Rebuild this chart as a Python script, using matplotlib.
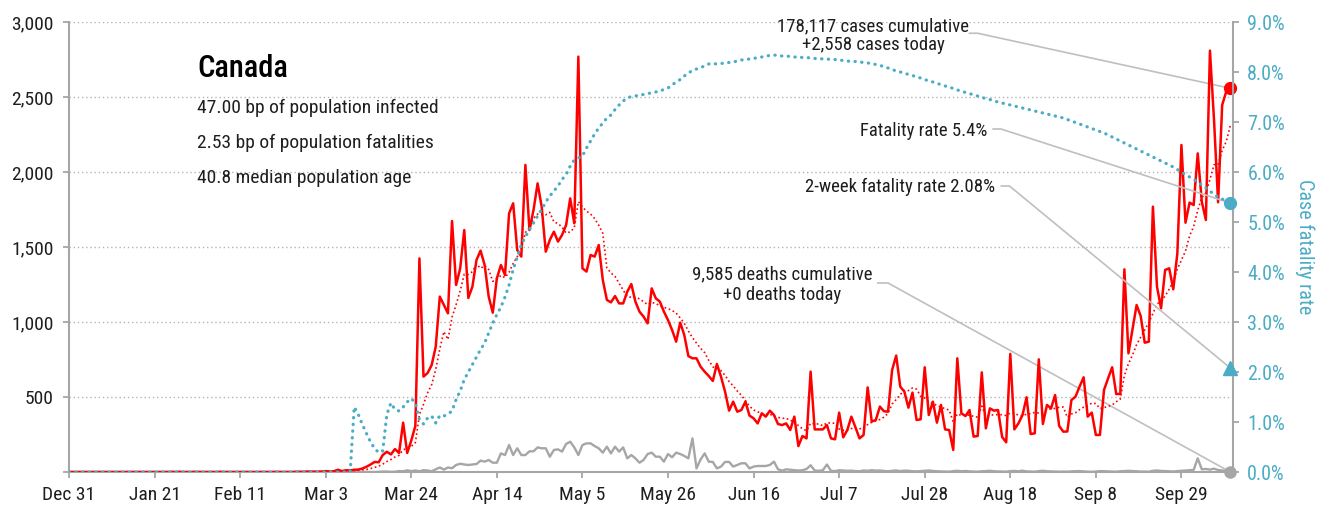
import numpy as np
import pandas as pd
import matplotlib
matplotlib.use('Agg')
import matplotlib.pyplot as plt
import matplotlib.dates as mdates
from matplotlib.ticker import FuncFormatter, MultipleLocator

plt.rcParams['font.family'] = ['Roboto Condensed', 'Roboto', 'DejaVu Sans']

RED = '#ff0000'
TEAL = '#4bacc6'
GREY = '#a6a6a6'
LEADER = '#bfbfbf'
TXT = '#1e1e1e'

# daily new cases, one list per month (Dec 31 2019 .. Oct 11 2020)
cases_dec = [0]
cases_jan = [0, 0, 0, 0, 0, 0, 0, 0, 0, 0, 0, 0, 0, 0, 0, 0, 0, 0, 0, 0,
             0, 0, 0, 0, 1, 0, 1, 0, 0, 0, 1]
cases_feb = [0, 0, 0, 0, 0, 1, 0, 0, 0, 0, 0, 0, 0, 0, 0, 0, 0, 0, 0, 1,
             0, 0, 0, 0, 2, 1, 2, 3, 2]
cases_mar = [2, 3, 6, 3, 5, 15, 6, 12, 10, 15, 16, 23, 35, 50, 67, 65, 113, 135, 117, 153,
             127, 329, 127, 210, 307, 1424, 636, 660, 713, 836, 1169]
cases_apr = [1113, 1058, 1673, 1247, 1358, 1613, 1160, 1236, 1413, 1476,
             1380, 1169, 1062, 1291, 1380, 1313, 1724, 1791, 1480, 1436,
             2047, 1613, 1747, 1924, 1769, 1469, 1547, 1602, 1536, 1580]
cases_may = [1647, 1824, 1658, 2769, 1358, 1336, 1447, 1436, 1513, 1280,
             1147, 1131, 1173, 1124, 1124, 1202, 1253, 1136, 1069, 1036,
             991, 1224, 1158, 1136, 1069, 1013, 947, 869, 996, 913, 773]
cases_jun = [758, 758, 702, 669, 640, 607, 720, 636, 536, 409,
             469, 402, 413, 469, 376, 358, 324, 391, 369, 409,
             380, 320, 313, 324, 280, 369, 173, 240, 224, 669]
cases_jul = [284, 284, 284, 313, 224, 218, 396, 231, 280, 369,
             298, 224, 247, 564, 336, 347, 436, 405, 402, 680,
             776, 569, 536, 429, 529, 347, 351, 698, 380, 469, 329]
cases_aug = [447, 284, 280, 147, 758, 391, 373, 413, 236, 240,
             664, 291, 424, 409, 413, 233, 198, 787, 284, 324,
             380, 498, 253, 258, 751, 320, 447, 424, 513, 307, 269]
cases_sep = [270, 480, 502, 569, 631, 369, 396, 247, 247, 547,
             624, 698, 520, 520, 1351, 791, 951, 1113, 1040, 862,
             869, 1769, 1236, 1091, 1347, 1358, 1218, 1458, 2180, 1662]
cases_oct = [1796, 1780, 2124, 1802, 1680, 2809, 2347, 1798, 2447, 2536, 2558]

# daily deaths
deaths_dec = [0]
deaths_jan = [0, 0, 0, 0, 0, 0, 0, 0, 0, 0, 0, 0, 0, 0, 0, 0, 0, 0, 0, 0,
              0, 0, 0, 0, 0, 0, 0, 0, 0, 0, 0]
deaths_feb = [0, 0, 0, 0, 0, 0, 0, 0, 0, 0, 0, 0, 0, 0, 0, 0, 0, 0, 0, 0,
              0, 0, 0, 0, 0, 0, 0, 0, 0]
deaths_mar = [0, 0, 0, 0, 0, 0, 0, 0, 1, 0, 0, 0, 0, 0, 0, 1, 3, 3, 1, 2,
              6, 5, 11, 6, 10, 5, 12, 10, 5, 18, 30]
deaths_apr = [16, 30, 25, 47, 55, 50, 47, 50, 53, 76, 69, 80, 62, 62, 124,
              113, 180, 113, 158, 113, 113, 138, 138, 164, 158, 158, 102, 147, 151, 136]
deaths_may = [187, 202, 164, 113, 180, 191, 191, 173, 158, 129, 169, 124, 169, 136, 164,
              91, 113, 91, 62, 80, 120, 129, 102, 102, 69, 120, 98, 129, 120, 107, 91]
deaths_jun = [224, 24, 84, 124, 69, 67, 24, 36, 67, 67, 36, 47, 58, 58, 24,
              36, 40, 40, 40, 47, 69, 18, 9, 18, 15, 12, 10, 12, 20, 45]
deaths_jul = [10, 8, 12, 50, 8, 6, 12, 10, 8, 9, 6, 5, 10, 8, 12, 9,
              10, 7, 5, 8, 10, 6, 9, 8, 5, 4, 6, 8, 10, 7, 5]
deaths_aug = [4, 3, 2, 6, 8, 5, 7, 4, 3, 2, 5, 6, 8, 5, 4, 3,
              2, 6, 7, 5, 9, 4, 3, 2, 6, 8, 5, 4, 3, 2, 3]
deaths_sep = [2, 4, 5, 6, 4, 2, 1, 3, 6, 5, 4, 3, 2, 5, 6,
              8, 6, 5, 3, 3, 2, 8, 10, 7, 6, 5, 3, 6, 8, 10]
deaths_oct = [12, 14, 91, 18, 20, 16, 22, 13, 10, 7, 0]

# case fatality rate, percent
cfr_dec = [0]
cfr_jan = [0, 0, 0, 0, 0, 0, 0, 0, 0, 0, 0, 0, 0, 0, 0, 0, 0, 0, 0, 0,
           0, 0, 0, 0, 0, 0, 0, 0, 0, 0, 0]
cfr_feb = [0, 0, 0, 0, 0, 0, 0, 0, 0, 0, 0, 0, 0, 0, 0, 0, 0, 0, 0, 0,
           0, 0, 0, 0, 0, 0, 0, 0, 0]
cfr_mar = [0, 0, 0, 0, 0, 0, 0, 0, 0, 1.30, 1.15, 0.95, 0.77, 0.60, 0.47, 0.39,
           0.42, 1.15, 1.38, 1.25, 1.22, 1.30, 1.40, 1.47, 1.38, 1.05, 0.96, 1.08,
           1.12, 0.98, 1.13]
cfr_apr = [1.12, 1.16, 1.22, 1.45, 1.62, 1.85, 2.00, 2.15, 2.30, 2.45,
           2.58, 2.78, 2.98, 3.15, 3.30, 3.50, 3.74, 4.05, 4.30, 4.55,
           4.70, 4.85, 4.98, 5.12, 5.25, 5.40, 5.52, 5.62, 5.72, 5.85]
cfr_may = [5.95, 6.12, 6.24, 6.28, 6.32, 6.48, 6.62, 6.76, 6.88, 6.98,
           7.08, 7.14, 7.25, 7.34, 7.42, 7.48, 7.51, 7.52, 7.54, 7.55,
           7.57, 7.58, 7.60, 7.62, 7.65, 7.68, 7.74, 7.80, 7.85, 7.92, 7.98]
cfr_jun = [8.03, 8.06, 8.09, 8.12, 8.16, 8.17, 8.16, 8.17, 8.18, 8.19,
           8.20, 8.22, 8.24, 8.25, 8.26, 8.27, 8.29, 8.30, 8.32, 8.33,
           8.34, 8.33, 8.32, 8.32, 8.31, 8.30, 8.30, 8.29, 8.29, 8.28]
cfr_jul = [8.27, 8.27, 8.26, 8.26, 8.25, 8.25, 8.24, 8.23, 8.22, 8.21,
           8.21, 8.20, 8.19, 8.18, 8.17, 8.15, 8.13, 8.11, 8.08, 8.05,
           8.02, 8.00, 7.98, 7.95, 7.93, 7.90, 7.88, 7.85, 7.82, 7.80, 7.77]
cfr_aug = [7.75, 7.72, 7.70, 7.67, 7.64, 7.62, 7.59, 7.57, 7.54, 7.52,
           7.49, 7.47, 7.45, 7.42, 7.40, 7.38, 7.36, 7.34, 7.32, 7.30,
           7.28, 7.26, 7.24, 7.22, 7.20, 7.18, 7.16, 7.14, 7.12, 7.10, 7.08]
cfr_sep = [7.05, 7.02, 6.99, 6.96, 6.93, 6.90, 6.87, 6.84, 6.81, 6.78,
           6.74, 6.70, 6.66, 6.62, 6.58, 6.54, 6.50, 6.46, 6.42, 6.38,
           6.34, 6.30, 6.26, 6.22, 6.18, 6.14, 6.10, 6.05, 6.00, 5.95]
cfr_oct = [5.90, 5.85, 5.80, 5.74, 5.68, 5.62, 5.55, 5.50, 5.46, 5.42, 5.38]

two_week_cfr = 2.08
total_cases = '178,117'
total_deaths = '9,585'
country = 'Canada'
info_lines = ['47.00 bp of population infected',
              '2.53 bp of population fatalities',
              '40.8 median population age']


def join(*parts):
    out = []
    for p in parts:
        out += p
    return np.array(out, dtype=float)


cases = join(cases_dec, cases_jan, cases_feb, cases_mar, cases_apr, cases_may,
             cases_jun, cases_jul, cases_aug, cases_sep, cases_oct)
deaths = join(deaths_dec, deaths_jan, deaths_feb, deaths_mar, deaths_apr, deaths_may,
              deaths_jun, deaths_jul, deaths_aug, deaths_sep, deaths_oct)
cfr = join(cfr_dec, cfr_jan, cfr_feb, cfr_mar, cfr_apr, cfr_may,
           cfr_jun, cfr_jul, cfr_aug, cfr_sep, cfr_oct)

dates = pd.date_range('2019-12-31', periods=len(cases), freq='D')
avg7 = pd.Series(cases).rolling(7).mean().values

fig = plt.figure(figsize=(13.24, 5.12), dpi=100)
ax = fig.add_axes([69 / 1324, 40 / 512, 1163.7 / 1324, 450 / 512])
ax2 = ax.twinx()

# left axis series
ax.plot(dates, deaths, color=GREY, lw=1.7, zorder=3)
ax.plot(dates, cases, color=RED, lw=1.8, zorder=4)
ax.plot(dates, avg7, color=RED, lw=1.2, linestyle=(0, (1, 1.6)), zorder=4)

# right axis series
ax2.plot(dates, cfr, color=TEAL, lw=2.3, linestyle=(0, (0.1, 2.0)),
         dash_capstyle='round', zorder=3)

x0 = mdates.date2num(dates[0])
xend = dates[-1]

ax.set_xlim(dates[0], dates[-1] + pd.Timedelta(hours=14))
ax.set_ylim(0, 3000)
ax2.set_ylim(0, 9)

ticks = pd.date_range('2019-12-31', periods=14, freq='21D')
ax.set_xticks(ticks)
ax.xaxis.set_major_formatter(mdates.DateFormatter('%b %-d'))
ax.yaxis.set_major_locator(MultipleLocator(500))
ax.yaxis.set_major_formatter(FuncFormatter(lambda v, p: '' if v == 0 else f'{v:,.0f}'))
ax2.yaxis.set_major_locator(MultipleLocator(1))
ax2.yaxis.set_major_formatter(FuncFormatter(lambda v, p: f'{v:.1f}%'))

ax.grid(axis='y', color='#b4b4b4', lw=1.0, linestyle=(0, (1, 2)))
ax.set_axisbelow(True)

for a in (ax, ax2):
    a.spines['top'].set_visible(False)
    for s in a.spines.values():
        s.set_color(GREY)
        s.set_linewidth(1.5)
ax.spines['right'].set_visible(False)
ax2.spines['left'].set_visible(False)
ax2.spines['bottom'].set_visible(False)

ax.tick_params(axis='x', direction='out', length=4, width=1.3, color=GREY,
               labelsize=14, labelcolor=TXT, pad=6)
ax.tick_params(axis='y', direction='out', length=4, width=1.3, color=GREY,
               labelsize=14, labelcolor=TXT, pad=7)
ax2.tick_params(axis='y', direction='out', length=4.5, width=1.3, color=GREY,
                labelsize=14.5, labelcolor=TEAL, pad=6)
ax2.set_ylabel('Case fatality rate', color=TEAL, fontsize=14.5, rotation=270,
               va='center', ha='center')
ax2.yaxis.set_label_coords(1.062, 0.5)

# end markers
ax.plot([xend], [cases[-1]], 'o', color=RED, ms=8.5, clip_on=False, zorder=6)
ax.plot([xend], [deaths[-1]], 'o', color=GREY, ms=8, clip_on=False, zorder=6)
ax2.plot([xend], [cfr[-1]], 'o', color=TEAL, ms=8.5, clip_on=False, zorder=6)
ax2.plot([xend], [two_week_cfr], '^', color=TEAL, ms=9.5, clip_on=False, zorder=6)

# leader lines (horizontal stub then diagonal to the end marker)
xe = mdates.date2num(xend)
ax.plot([x0 + 221.0, x0 + 223.0, xe], [2925, 2925, cases[-1]], color=LEADER, lw=1.2, zorder=2)
ax2.plot([x0 + 226.8, x0 + 228.7, xe], [6.86, 6.86, cfr[-1]], color=LEADER, lw=1.2, zorder=2)
ax2.plot([x0 + 228.8, x0 + 230.8, xe], [5.72, 5.72, two_week_cfr], color=LEADER, lw=1.2, zorder=2)
ax.plot([x0 + 198.5, x0 + 201.0, xe], [1260, 1260, deaths[-1]], color=LEADER, lw=1.2, zorder=2)

# annotation texts
ax.text(x0 + 197.3, 2907,
        f'{total_cases} cases cumulative\n+{int(cases[-1]):,} cases today',
        ha='center', va='center', fontsize=13.5, color=TXT, linespacing=1.05)
ax2.text(x0 + 225.4, 6.82, f'Fatality rate {cfr[-1]:.1f}%',
         ha='right', va='center', fontsize=13.5, color=TXT)
ax2.text(x0 + 227.3, 5.70, f'2-week fatality rate {two_week_cfr:.2f}%',
         ha='right', va='center', fontsize=13.5, color=TXT)
ax.text(x0 + 175.0, 1250,
        f'{total_deaths} deaths cumulative\n+{int(deaths[-1])} deaths today',
        ha='center', va='center', fontsize=13.5, color=TXT, linespacing=1.15)

# country block
ax.text(0.110, 0.878, country, transform=ax.transAxes, fontsize=22,
        color='#000000', va='baseline', ha='left', fontweight='medium')
for i, line in enumerate(info_lines):
    ax.text(0.110, 0.798 - i * 0.078, line, transform=ax.transAxes,
            fontsize=14, color=TXT, va='baseline', ha='left')

fig.savefig('out.png', dpi=100)
